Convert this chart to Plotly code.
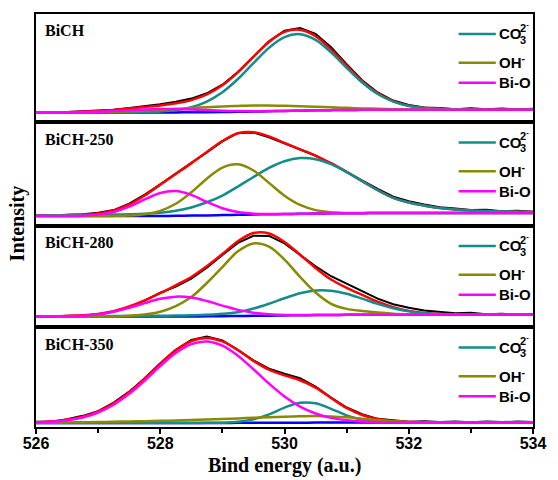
import plotly.graph_objects as go

# ---------------- data ----------------
ENERGY = [526.0, 526.25, 526.5, 526.75, 527.0, 527.25, 527.5, 527.75, 528.0, 528.25, 528.5,
          528.75, 529.0, 529.25, 529.5, 529.75, 530.0, 530.25, 530.5, 530.75, 531.0, 531.25,
          531.5, 531.75, 532.0, 532.25, 532.5, 532.75, 533.0, 533.25, 533.5, 533.75, 534.0]

SAMPLES = ["BiCH", "BiCH-250", "BiCH-280", "BiCH-350"]
X_TICKS = [526, 528, 530, 532, 534]

# BiCH
BICH_BASE = [10.0, 10.0, 10.0, 10.0, 10.0, 10.0, 10.0, 10.0, 10.0, 10.1, 10.2, 10.3, 10.5, 10.7, 11.0,
             11.3, 11.6, 11.9, 12.2, 12.4, 12.6, 12.7, 12.8, 12.8, 12.8, 12.8, 12.8, 12.8, 12.8, 12.8,
             12.8, 12.8, 12.8]
BICH_CO3 = [0, 0, 0, 0.1, 0.1, 0.2, 0.3, 0.5, 1.0, 2.3, 5.1, 10.7, 19.9, 33.0, 48.6, 63.7, 74.2, 76.8,
            70.8, 58.0, 42.3, 27.4, 15.8, 8.1, 3.8, 1.7, 0.8, 0.4, 0.2, 0.1, 0, 0, 0]
BICH_OH = [0.05, 0.1, 0.2, 0.3, 0.55, 0.9, 1.35, 1.95, 2.65, 3.5, 4.3, 5.0, 5.6, 5.9, 6.0, 5.7, 5.2,
           4.45, 3.65, 2.8, 2.1, 1.45, 0.95, 0.6, 0.35, 0.2, 0.1, 0.05, 0, 0, 0, 0, 0]
BICH_BIO = [0, 0.06, 0.17, 0.4, 0.84, 1.49, 2.29, 3.03, 3.46, 3.41, 2.9, 2.12, 1.34, 0.73, 0.34, 0.14,
            0.05, 0, 0, 0, 0, 0, 0, 0, 0, 0, 0, 0, 0, 0, 0, 0, 0]
BICH_RAW = [10.3, 10.0, 10.6, 11.2, 11.6, 12.9, 14.5, 16.3, 18.4, 20.9, 24.0, 29.3, 38.0, 50.8, 66.2,
            81.5, 92.3, 95.0, 89.0, 75.5, 58.5, 42.5, 30.2, 22.0, 17.6, 15.0, 14.6, 13.4, 14.3, 13.2,
            14.0, 13.1, 13.8]

# BiCH-250
B250_BASE = [10.0, 10.0, 10.0, 10.0, 10.0, 10.0, 10.0, 10.0, 10.1, 10.2, 10.4, 10.6, 10.9, 11.2, 11.5,
             11.8, 12.0, 12.3, 12.5, 12.7, 12.8, 12.9, 13.0, 13.0, 13.0, 13.0, 13.0, 13.0, 13.0, 13.0,
             13.0, 13.0, 13.0]
B250_CO3 = [0.6, 0.7, 0.8, 1.0, 1.2, 1.4, 1.7, 2.2, 3.2, 5.0, 8.2, 13.2, 19.7, 28.4, 37.7, 46.5, 53.0,
            55.9, 54.6, 49.4, 41.4, 32.1, 23.0, 15.3, 10.5, 7.5, 5.0, 3.5, 2.5, 2.0, 1.6, 1.3, 1.1]
B250_OH = [0, 0, 0, 0, 0.02, 0.12, 0.51, 1.79, 5.13, 12.1, 23.4, 36.9, 47.8, 50.8, 44.2, 31.5, 18.4,
           8.8, 3.44, 1.1, 0.29, 0.06, 0, 0, 0, 0, 0, 0, 0, 0, 0, 0, 0]
B250_BIO = [0, 0.01, 0.08, 0.37, 1.4, 4.1, 9.4, 16.7, 23.1, 24.9, 20.9, 13.6, 6.95, 2.75, 0.85, 0.2,
            0.04, 0, 0, 0, 0, 0, 0, 0, 0, 0, 0, 0, 0, 0, 0, 0, 0]
B250_RAW = [10.9, 10.5, 11.2, 11.8, 13.3, 16.0, 22.4, 31.5, 41.8, 52.9, 63.5, 74.0, 85.0, 93.5, 94.0,
            89.2, 83.0, 76.2, 70.8, 62.6, 54.0, 45.8, 37.2, 29.5, 24.8, 21.6, 18.8, 17.6, 16.0, 16.2,
            14.9, 15.2, 14.4]

# BiCH-280
B280_BASE = [11.0, 11.0, 11.0, 11.0, 11.0, 11.0, 11.0, 11.0, 11.0, 11.05, 11.1, 11.2, 11.35, 11.5,
             11.7, 11.9, 12.1, 12.3, 12.5, 12.6, 12.7, 12.8, 12.8, 12.8, 12.8, 12.8, 12.8, 12.8, 12.8,
             12.8, 12.8, 12.8, 12.8]
B280_CO3 = [0.2, 0.2, 0.3, 0.3, 0.4, 0.5, 0.6, 0.7, 0.8, 0.9, 1.1, 1.5, 2.5, 3.9, 7.3, 12.0, 17.3,
            22.1, 24.7, 24.4, 21.2, 16.2, 10.9, 6.5, 3.4, 1.55, 0.63, 0.22, 0.07, 0, 0, 0, 0]
B280_OH = [0, 0, 0, 0, 0.02, 0.08, 0.8, 2.0, 4.8, 10.5, 19.5, 33.5, 49.3, 65.0, 72.8, 69.3, 56.1,
           38.6, 22.6, 11.2, 6.0, 3.8, 2.2, 1.1, 0.5, 0.2, 0, 0, 0, 0, 0, 0, 0]
B280_BIO = [0.02, 0.08, 0.3, 0.88, 2.22, 4.77, 8.7, 13.5, 17.8, 19.9, 19.0, 15.4, 10.6, 6.2, 3.1, 1.3,
            0.47, 0.14, 0.04, 0, 0, 0, 0, 0, 0, 0, 0, 0, 0, 0, 0, 0, 0]
B280_RAW = [11.5, 11.0, 11.8, 12.0, 13.4, 16.0, 20.6, 27.0, 34.9, 41.0, 49.0, 60.0, 72.8, 85.0, 92.2,
            92.0, 84.5, 73.0, 61.5, 51.5, 43.8, 36.2, 29.0, 23.4, 19.8, 17.0, 15.9, 14.2, 14.8, 13.4,
            13.9, 12.9, 13.3]

# BiCH-350
B350_BASE = [12.0, 12.0, 12.0, 12.0, 12.0, 12.0, 12.0, 12.0, 12.0, 12.0, 12.0, 12.05, 12.1, 12.15,
             12.2, 12.25, 12.3, 12.35, 12.4, 12.45, 12.5, 12.5, 12.5, 12.5, 12.5, 12.5, 12.5, 12.5,
             12.5, 12.5, 12.5, 12.5, 12.5]
B350_CO3 = [0, 0, 0, 0, 0, 0, 0, 0, 0, 0, 0.05, 0.1, 0.23, 1.03, 3.44, 8.4, 15.2, 20.0, 19.4, 13.8,
            7.2, 2.78, 0.78, 0.16, 0.03, 0, 0, 0, 0, 0, 0, 0, 0]
B350_OH = [0.3, 0.4, 0.6, 0.8, 1.0, 1.3, 1.6, 1.9, 2.2, 2.6, 3.0, 3.5, 4.0, 4.5, 5.0, 5.5, 6.0, 6.4,
           6.6, 6.2, 5.2, 3.8, 2.4, 1.2, 0.5, 0.2, 0.05, 0, 0, 0, 0, 0, 0]
B350_BIO = [0.49, 1.2, 2.7, 5.6, 10.6, 18.4, 29.3, 42.7, 57.3, 70.4, 79.3, 81.9, 77.7, 67.5, 53.8,
            39.4, 26.4, 16.2, 9.2, 4.7, 2.24, 0.98, 0.39, 0.15, 0.05, 0, 0, 0, 0, 0, 0, 0, 0]
B350_RAW = [13.2, 13.4, 15.8, 19.2, 24.0, 32.6, 43.5, 57.0, 72.0, 85.6, 95.5, 99.0, 95.0, 85.6, 75.0,
            66.6, 61.6, 57.0, 48.6, 37.5, 27.6, 20.8, 16.2, 14.6, 13.3, 13.7, 12.9, 13.6, 12.8, 13.5,
            12.9, 13.4, 13.0]

PANEL_DATA = [
    (BICH_RAW, BICH_BASE, BICH_CO3, BICH_OH, BICH_BIO),
    (B250_RAW, B250_BASE, B250_CO3, B250_OH, B250_BIO),
    (B280_RAW, B280_BASE, B280_CO3, B280_OH, B280_BIO),
    (B350_RAW, B350_BASE, B350_CO3, B350_OH, B350_BIO),
]
Y_RANGES = [[0, 109], [0, 104], [0, 102], [8, 108]]
for grp in PANEL_DATA:
    for arr in grp:
        assert len(arr) == len(ENERGY), len(arr)

# ---------------- styling / layout ----------------
W, H = 558, 480
L, R, T, B = 36, 14, 12, 53
PW, PH = W - L - R, H - T - B
PANEL_TOPS = [12, 121, 225, 327]
PANEL_BOTS = [121, 225, 327, 427]

C_RAW, C_FIT, C_BASE = "#000000", "#ff0000", "#0000ff"
C_CO3, C_OH, C_BIO = "#148c8c", "#8a8a00", "#ff00ff"
SERIF = "Times New Roman, Liberation Serif, serif"
SANS = "Arial, Liberation Sans, sans-serif"


def px_x(px):
    return (px - L) / PW


def px_y(py):
    return (H - B - py) / PH


fig = go.Figure()
annotations, shapes = [], []

for i, (raw, base, co3, oh, bio) in enumerate(PANEL_DATA):
    sfx = "" if i == 0 else str(i + 1)
    xa, ya = "x" + sfx, "y" + sfx
    fit = [b + c + o + m for b, c, o, m in zip(base, co3, oh, bio)]

    def comp(arr, base=base):
        return [b + v for b, v in zip(base, arr)]

    fig.add_trace(go.Scatter(x=ENERGY, y=raw, mode="lines", xaxis=xa, yaxis=ya,
                             line=dict(color=C_RAW, width=2), showlegend=False))
    fig.add_trace(go.Scatter(x=ENERGY, y=fit, mode="lines", xaxis=xa, yaxis=ya,
                             line=dict(color=C_FIT, width=2.5, shape="spline"), showlegend=False))
    fig.add_trace(go.Scatter(x=ENERGY, y=base, mode="lines", xaxis=xa, yaxis=ya,
                             line=dict(color=C_BASE, width=2.5, shape="spline"), showlegend=False))
    fig.add_trace(go.Scatter(x=ENERGY, y=comp(co3), mode="lines", xaxis=xa, yaxis=ya,
                             line=dict(color=C_CO3, width=2.5, shape="spline"), showlegend=False))
    fig.add_trace(go.Scatter(x=ENERGY, y=comp(oh), mode="lines", xaxis=xa, yaxis=ya,
                             line=dict(color=C_OH, width=2.5, shape="spline"), showlegend=False))
    fig.add_trace(go.Scatter(x=ENERGY, y=comp(bio), mode="lines", xaxis=xa, yaxis=ya,
                             line=dict(color=C_BIO, width=2.5, shape="spline"), showlegend=False))

    top, bot = PANEL_TOPS[i], PANEL_BOTS[i]
    dom = [px_y(bot), px_y(top)]
    last = i == 3
    fig.update_layout(**{
        "xaxis" + sfx: dict(domain=[0, 1], range=[526, 534], anchor=ya, showline=True, mirror=True,
                            linecolor="black", linewidth=2, showgrid=False, zeroline=False,
                            tickvals=X_TICKS if last else [], showticklabels=last,
                            ticks="outside" if last else "", ticklen=5, tickwidth=2,
                            tickcolor="black", ticklabelstandoff=-4,
                            tickfont=dict(family=SANS, size=16, color="black", weight="bold"),
                            minor=dict(dtick=1, tick0=526, ticks="outside" if last else "",
                                       ticklen=4, tickwidth=2, tickcolor="black")),
        "yaxis" + sfx: dict(domain=dom, range=Y_RANGES[i], anchor=xa, showline=True, mirror=True,
                            linecolor="black", linewidth=2, showgrid=False, zeroline=False,
                            showticklabels=False, ticks=""),
    })

    # panel label
    annotations.append(dict(x=px_x(43), y=px_y(top + 17), xref="paper", yref="paper",
                            text="<b>%s</b>" % SAMPLES[i], showarrow=False, xanchor="left",
                            yanchor="middle", font=dict(family=SERIF, size=16, color="black")))
    # legend rows
    rows = [(top + 20, C_CO3), (top + 49, C_OH), (top + 69, C_BIO)]
    for (ry, col) in rows:
        shapes.append(dict(type="line", xref="paper", yref="paper", x0=px_x(468), x1=px_x(506),
                           y0=px_y(ry), y1=px_y(ry), line=dict(color=col, width=2.5)))
    lf = dict(family=SANS, size=15, color="black")
    annotations.append(dict(x=px_x(507), y=px_y(top + 20), xref="paper", yref="paper",
                            text="<b>CO</b>", showarrow=False, xanchor="left", yanchor="middle",
                            font=lf))
    annotations.append(dict(x=px_x(529), y=px_y(top + 26), xref="paper", yref="paper",
                            text="<b>3</b>", showarrow=False, xanchor="left", yanchor="middle",
                            font=dict(family=SANS, size=11, color="black")))
    annotations.append(dict(x=px_x(529), y=px_y(top + 13), xref="paper", yref="paper",
                            text="<b>2<sup>-</sup></b>", showarrow=False, xanchor="left",
                            yanchor="middle", font=dict(family=SANS, size=11, color="black")))
    annotations.append(dict(x=px_x(507), y=px_y(top + 48), xref="paper", yref="paper",
                            text="<b>OH<sup>-</sup></b>", showarrow=False, xanchor="left",
                            yanchor="middle", font=lf))
    annotations.append(dict(x=px_x(507), y=px_y(top + 69), xref="paper", yref="paper",
                            text="<b>Bi-O</b>", showarrow=False, xanchor="left", yanchor="middle",
                            font=lf))

annotations.append(dict(x=0.5, y=px_y(466), xref="paper", yref="paper",
                        text="<b>Bind energy (a.u.)</b>", showarrow=False, xanchor="center",
                        yanchor="middle", font=dict(family=SERIF, size=20, color="black")))
annotations.append(dict(x=px_x(18), y=px_y(222), xref="paper", yref="paper",
                        text="<b>Intensity</b>", showarrow=False, textangle=-90, xanchor="center",
                        yanchor="middle", font=dict(family=SERIF, size=20, color="black")))

fig.update_layout(width=W, height=H, margin=dict(l=L, r=R, t=T, b=B),
                  paper_bgcolor="white", plot_bgcolor="white", showlegend=False,
                  annotations=annotations, shapes=shapes)

fig.write_html("out.html")
